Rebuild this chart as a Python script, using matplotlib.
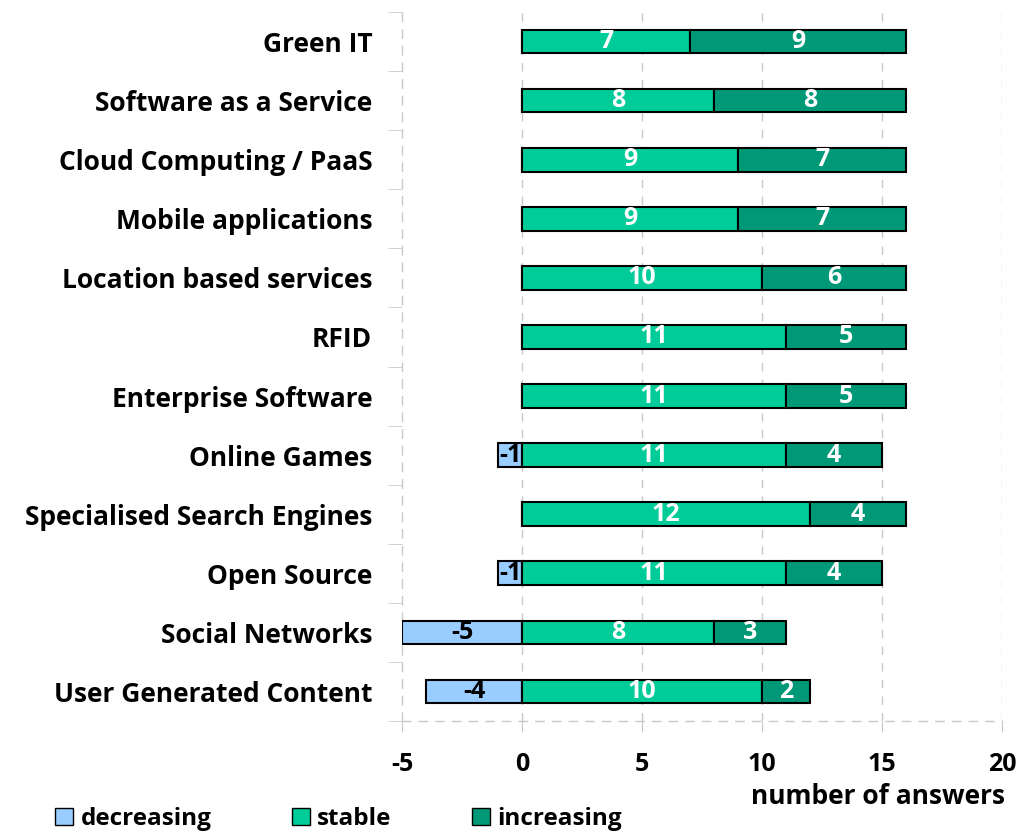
import numpy as np
import matplotlib
matplotlib.use("Agg")
import matplotlib.pyplot as plt
from matplotlib.patches import Patch

categories = ["Green IT", "Software as a Service", "Cloud Computing / PaaS",
              "Mobile applications", "Location based services", "RFID",
              "Enterprise Software", "Online Games", "Specialised Search Engines",
              "Open Source", "Social Networks", "User Generated Content"]
decreasing = [0, 0, 0, 0, 0, 0, 0, -1, 0, -1, -5, -4]
stable     = [7, 8, 9, 9, 10, 11, 11, 11, 12, 11, 8, 10]
increasing = [9, 8, 7, 7, 6, 5, 5, 4, 4, 4, 3, 2]

C_DEC = "#99ccff"
C_STA = "#00cc99"
C_INC = "#009977"
GRID = "#c8c8c8"

plt.rcParams["font.family"] = ["Open Sans", "DejaVu Sans"]
plt.rcParams["font.weight"] = "bold"

fig = plt.figure(figsize=(10.19, 8.33), dpi=100)
ax = fig.add_axes([402 / 1019, 1 - 721 / 833, 600 / 1019, 709 / 833])

y = np.arange(len(categories))
h = 0.4
dec = np.array(decreasing)
sta = np.array(stable)
inc = np.array(increasing)

# gridlines behind bars
for xv in [0, 5, 10, 15, 20]:
    ax.axvline(xv, color=GRID, lw=1, ls=(0, (6, 6)), zorder=0)

kw = dict(height=h, edgecolor="black", linewidth=1.5, zorder=3)
ax.barh(y, dec, color=C_DEC, **kw)
ax.barh(y, sta, color=C_STA, **kw)
ax.barh(y, inc, left=sta, color=C_INC, **kw)

fs = 18
for yi, d, s, i in zip(y, dec, sta, inc):
    if d != 0:
        ax.text(d / 2, yi, f"{d}", ha="center", va="center", color="black",
                fontsize=fs, fontweight="bold", zorder=4)
    ax.text(s / 2, yi, f"{s}", ha="center", va="center", color="white",
            fontsize=fs, fontweight="bold", zorder=4)
    ax.text(s + i / 2, yi, f"{i}", ha="center", va="center", color="white",
            fontsize=fs, fontweight="bold", zorder=4)

ax.set_xlim(-5, 20)
ax.set_ylim(len(categories) - 0.5, -0.5)
ax.set_xticks([-5, 0, 5, 10, 15, 20])
ax.set_xticklabels(["-5", "0", "5", "10", "15", "20"], fontsize=18, fontweight="bold")
ax.tick_params(axis="x", direction="out", length=8, color=GRID, pad=14)

ax.set_yticks(y)
ax.set_yticklabels(categories, fontsize=19, fontweight="bold")
ax.set_yticks(np.arange(-0.5, len(categories), 1), minor=True)
ax.tick_params(axis="y", which="major", length=0, pad=21.5)
ax.tick_params(axis="y", which="minor", direction="out", length=10, color=GRID)

for side in ["top", "right"]:
    ax.spines[side].set_visible(False)
for side in ["left", "bottom"]:
    ax.spines[side].set_color(GRID)
    ax.spines[side].set_linestyle((0, (6, 6)))
    ax.spines[side].set_linewidth(1)

fig.text(1005 / 1019, 1 - 797 / 833, "number of answers", ha="right", va="center",
         fontsize=19, fontweight="bold")

handles = [Patch(facecolor=C_DEC, edgecolor="black", label="decreasing"),
           Patch(facecolor=C_STA, edgecolor="black", label="stable"),
           Patch(facecolor=C_INC, edgecolor="black", label="increasing")]
fig.legend(handles=handles, loc="center left", bbox_to_anchor=(55 / 1019, 1 - 819 / 833),
           ncol=3, frameon=False, fontsize=17.5, handlelength=0.75, handleheight=0.75,
           handletextpad=0.3, columnspacing=3.3, borderaxespad=0, borderpad=0)

fig.savefig("out.png", dpi=100)
